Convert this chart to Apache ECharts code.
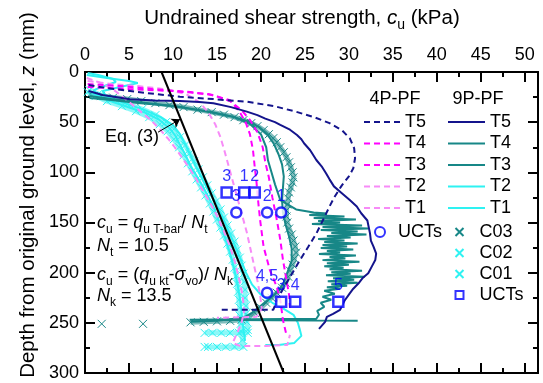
<!DOCTYPE html>
<html>
<head>
<meta charset="utf-8">
<script src="https://cdn.jsdelivr.net/npm/echarts@6/dist/echarts.min.js"></script>
<style>
html,body{margin:0;padding:0;background:#fff;}
#chart{width:543px;height:383px;}
</style>
</head>
<body>
<div id="chart"></div>
<script>
// Axis ticks
const strengthTicks = [0, 5, 10, 15, 20, 25, 30, 35, 40, 45, 50];
const strengthMinorTicks = [2.5, 7.5, 12.5, 17.5, 22.5, 27.5, 32.5, 37.5, 42.5, 47.5];
const strengthMax = 51.5;
const depthMax = 300;

// 4P-PF T-bar profiles [cu (kPa), z (mm)]
const pf4_T5 = [[0.4,13],[2.5,16],[6,20],[10.8,24.6],[14.6,27],[18.4,29.6],[21.5,34],[24,39.6],[26.2,45.5],[27.8,51],[29.2,58],[30.1,66],[30.6,76],[30.7,86],[30.5,96],[30,104],[29.2,113],[28.4,124],[27.8,134],[27.2,145],[26.3,161],[25.4,174],[24.4,188],[23.6,200],[22.8,212],[22,224],[21.4,237],[15.3,237]];
const pf4_T4 = [[0.3,12],[4,14],[8.9,18],[12,20],[14.6,23],[16.5,29],[17.8,38],[18.75,47.8],[19.6,60],[20.2,75],[20.5,90],[20.9,105],[21.3,125],[21.8,147],[22.2,167],[22.5,187],[22.9,207],[23.2,222],[23.3,235]];
const pf4_T3 = [[0.3,15],[5,17],[10,19],[14,22],[16.5,28],[17.6,40],[18.3,51],[18.75,62],[19.1,78],[19.3,95],[19.5,110],[19.7,130],[19.9,147],[20.3,174],[21,197],[21.8,214],[22.2,227],[22.5,247],[22.9,262]];
const pf4_T2 = [[0.3,9],[3,12],[6,14],[9,17],[11.5,22],[13,30],[14,40],[14.8,52],[15.4,65],[15.9,80],[16.4,96],[16.9,112],[17.4,128],[17.9,144],[18.4,160],[18.8,176],[19.2,192],[19.6,208],[19.9,222],[20.1,236],[19.5,244],[15,245]];
const pf4_T1 = [[0.2,6],[1.5,10],[3,16],[4.2,24],[5.3,32],[6.4,40],[7.5,48],[8.5,57],[9.4,66],[10.2,75],[11,85],[11.8,95],[12.6,106],[13.4,118],[14.2,130],[15,143],[15.7,157],[16.4,172],[17,188],[17.5,205],[17.9,222],[18.1,238],[17.8,250],[17.2,262],[16.8,270],[17.6,273],[20.6,273],[23,272],[23.3,262]];

// 9P-PF T-bar profiles
const pf9_T5 = [[0.4,19],[2,23],[5.1,27.2],[8,28.3],[10.8,28.9],[13,30],[14.6,31.2],[16.6,35],[18.4,39.5],[19.6,43],[20.5,46.5],[21.6,50],[22.2,52.8],[23.3,57.5],[24.1,62.8],[24.6,67],[24.9,71],[25.6,78],[26.3,87.7],[26.9,94],[27.4,101],[27.8,107],[28.3,114],[29.1,120],[30.1,127.6],[30.9,134],[31.4,140.8],[32.1,148],[32.4,160.8],[32.5,168],[32.8,174],[33.1,181],[33,187.4],[32.6,194],[32.2,200.6],[31.6,205],[31.1,210.6],[30.5,216],[30.1,220.6],[29.5,228],[29,237],[28.2,241],[27.5,244],[27.3,249],[26.6,256]];
const pf9_T4 = [[0.5,24],[3,27],[7,31],[11,35],[14.5,40],[17,45],[18.8,52],[20,62],[20.6,75],[20.8,88],[21.2,100],[21.6,112],[22.2,127.6],[24,137],[26,140],[27.5,141],[25.5,142.5],[29.5,144],[26,145.5],[30.8,147],[26.5,148.5],[29,150],[25.8,151.5],[31.5,153],[27,154.5],[32.2,156],[26.8,157.5],[31,159],[28,160.5],[32,162],[27.5,163.5],[30.2,165],[26.5,166.5],[29.5,168],[27.2,169.5],[31,171],[27,172.5],[29.8,174],[26.8,175.5],[30.5,177],[27.5,178.5],[29,180],[26.6,181.5],[30.8,183],[27.8,184.5],[29.6,186],[27,187.5],[31.2,189],[27.5,190.5],[30,192],[27.2,193.5],[29.4,195],[27.8,196.5],[31.5,198],[28,199.5],[30.2,201],[27.4,202.5],[31.8,204],[28.2,205.5],[30.6,207],[27.6,208.5],[31,210],[28,211.5],[29.8,213],[27.5,214.5],[29,216],[27.2,218],[28.4,221],[27,224],[28,227],[26.8,230],[27.2,234],[26.4,238],[26.6,242],[26.3,246],[11.9,247],[31,248]];
const pf9_T3 = [[0.5,26],[3,28],[6,31],[10,34],[13.5,39],[16.5,44],[18.5,49],[19.8,55],[20.8,63],[21.5,72],[22,82],[22.4,92],[22.6,104],[22.5,116],[22.4,128],[22.5,140],[22.8,152],[23.2,164],[23.5,176],[23.5,188],[23,200],[22.6,210],[22,218],[21,226],[20,233],[19,240],[18,245],[15,248],[12,249]];
const pf9_T2 = [[0.2,3],[2.5,6],[5,9],[6,11],[4,15],[2,19],[2.5,25],[4.5,31],[6.8,38],[8.6,45],[10,53],[10.8,62],[11.4,72],[12,83],[12.6,94],[13.3,106],[14,118],[14.8,130],[15.5,142],[16.2,156],[16.9,170],[17.6,185],[18.3,200],[19,212],[20,222],[21.3,230],[22.6,236],[23.7,242],[24.2,250],[24.4,256],[24.6,263],[23.8,270],[22,272],[20.5,272]];
const pf9_T1 = [[0.3,1],[1.5,3],[3.2,7],[3.5,10],[2.2,14],[1,18],[1.5,24],[3.2,30],[5.2,36],[7,41],[8.5,48],[9.6,56],[10.3,64],[10.9,74],[11.5,84],[12,94],[12.7,104],[13.4,114],[14,124],[14.6,134],[15.2,148],[15.8,162],[16.4,178],[16.9,194],[17.3,210],[17.6,225],[17.8,240],[18,255],[18.2,268]];

// Cone penetration profiles
const cone_C03 = [[0.6,22],[1.8,24],[3.2,25.5],[4.8,27],[6.4,29],[8,31],[9.6,33],[11.2,35],[12.8,37.5],[14.4,40],[15.8,42.5],[17,45],[18,48],[18.9,51],[19.6,54],[20.3,58],[20.9,62],[21.4,66],[21.8,70],[22.2,75],[22.6,80],[22.9,85],[23.2,90],[23.4,95],[23.6,100],[23.7,105],[23.6,110],[23.4,115],[23.2,120],[23.1,126],[23,132],[22.9,138],[22.9,144],[23,150],[23.2,156],[23.5,162],[23.7,168],[23.9,174],[24,180],[23.8,186],[23.6,192],[23.3,198],[23.1,204],[22.8,210],[22.4,215],[21.8,220],[21.2,225],[20.6,230],[20,235],[19.3,240],[18.6,244],[17.8,247],[16.5,248],[15,248.5],[13.5,249],[12,249.5],['-','-'],[6.6,251],['-','-'],[1.9,251]];
const cone_C02 = [[0.5,18],[1.5,22],[3,27],[4.8,32],[6.5,37],[8,43],[9.2,50],[10.1,57],[10.8,65],[11.4,73],[11.9,81],[12.4,89],[12.9,97],[13.4,105],[13.9,113],[14.4,121],[14.9,129],[15.4,137],[15.8,145],[16.2,153],[16.6,161],[17,169],[17.3,177],[17.6,185],[17.8,193],[18,201],[18.1,209],[18.2,217],[18.2,225],[18.3,233],[18.3,241],[18.4,249],[18.5,257],[18.5,260],[17.5,260],[16.5,260],[15.5,260],[14.5,260],[13.6,260]];
const cone_C01 = [[0.3,20],[1.2,24],[2.5,29],[4.2,34],[5.8,39],[7.3,45],[8.5,52],[9.4,59],[10.1,67],[10.7,75],[11.2,83],[11.7,91],[12.2,99],[12.7,107],[13.2,115],[13.7,123],[14.2,131],[14.6,139],[15,147],[15.4,155],[15.8,163],[16.2,171],[16.5,179],[16.8,187],[17,195],[17.2,203],[17.3,211],[17.4,219],[17.5,227],[17.6,235],[17.6,243],[17.7,251],[17.8,259],[17.9,267],[18,274],[17,274],[16,274],[15,274],[14,274],[13.6,274]];

// Unconfined compression tests [cu, z, test no.]
const uct_4P = [[22.3,140,'1'],[20.7,140,'2'],[17.2,140,'3'],[20.7,220,'4,5']];
const uct_9P = [[16.1,120,'3'],[18.1,120,'1'],[19.3,120,'2'],[22.3,229,'3'],[23.9,229,'4'],[28.8,229,'5']];

// Eq. (3) design line
const eq3Line = [[8.7,0],[22.6,300]];
const eq3Arrow = [[8.3,60],[10.8,47.2]];

const FF = '"Liberation Sans", Arial, sans-serif';
const NAVY = '#14148c', MAGENTA = '#ff00ff', PINK = '#f78bf7', TEAL = '#178787', CYAN = '#2ef2f2', BLUE = '#0000ff';
const XMARK = 'path://M0,0L10,10M10,0L0,10';
const SQUARE = 'path://M0,0H10V10H0Z';
const DASH = [6, 4];

function profile(name, data, color, dashed, z) {
  return {
    type: 'line', name: name, data: data, symbol: 'none', showSymbol: false,
    xAxisIndex: 0, yAxisIndex: 0, z: z, animation: false, silent: true,
    lineStyle: { color: color, width: 2, type: dashed ? DASH : 'solid' },
    itemStyle: { color: color }
  };
}
function cone(name, data, color, z) {
  return {
    type: 'line', name: name, data: data, symbol: XMARK, symbolSize: 8,
    showSymbol: true, showAllSymbol: true, connectNulls: false,
    xAxisIndex: 0, yAxisIndex: 0, z: z, animation: false, silent: true,
    lineStyle: { color: color, width: 5, opacity: 0.55 },
    itemStyle: { color: 'none', borderColor: color, borderWidth: 1 }
  };
}
function uct(name, data, symbol, z) {
  return {
    type: 'scatter', name: name, data: data, symbol: symbol, symbolSize: 10,
    xAxisIndex: 0, yAxisIndex: 0, z: z, animation: false, silent: true,
    itemStyle: { color: '#fff', borderColor: BLUE, borderWidth: 2.5 },
    label: { show: true, position: 'top', distance: 2, color: BLUE, fontSize: 16, fontFamily: FF,
             formatter: p => p.value[2] }
  };
}

const tickAxis = (pos, values, len, labels) => ({
  type: 'value', position: pos, min: 0, max: strengthMax, gridIndex: 0,
  axisLine: { show: true, onZero: false, lineStyle: { color: '#000', width: 2 } },
  axisTick: { show: true, inside: true, length: len, customValues: values, lineStyle: { color: '#000', width: 2 } },
  axisLabel: labels ? { show: true, customValues: values, fontSize: 18, fontFamily: FF, color: '#000', margin: 8 } : { show: false },
  splitLine: { show: false }
});
const depthAxis = (pos, labels) => ({
  type: 'value', position: pos, inverse: true, min: 0, max: depthMax, interval: 50, gridIndex: 0,
  axisLine: { show: true, onZero: false, lineStyle: { color: '#000', width: 2 } },
  axisTick: { show: true, inside: true, length: 10, lineStyle: { color: '#000', width: 2 } },
  minorTick: { show: true, splitNumber: 2, length: 5, lineStyle: { color: '#000', width: 2 } },
  axisLabel: labels ? { show: true, fontSize: 18, fontFamily: FF, color: '#000', margin: 6 } : { show: false },
  splitLine: { show: false }, minorSplitLine: { show: false }
});

function richSet(size) {
  const sub = Math.round(size * 0.66);
  return {
    i: { fontFamily: FF, fontSize: size, fontStyle: 'italic', lineHeight: size + 2, verticalAlign: 'top', fill: '#000', color: '#000' },
    n: { fontFamily: FF, fontSize: size, lineHeight: size + 2, verticalAlign: 'top', fill: '#000', color: '#000' },
    s: { fontFamily: FF, fontSize: sub, lineHeight: sub, padding: [size + 5 - sub, 0, 0, 0], fill: '#000', color: '#000' }
  };
}
function label(x, y, text, size, align, rot) {
  return { type: 'text', x: x, y: y, rotation: rot || 0, silent: true, z: 50,
    style: { text: text, rich: richSet(size), font: size + 'px ' + FF, fill: '#000',
             align: align || 'left', textAlign: align || 'left', verticalAlign: 'top', textVerticalAlign: 'top' } };
}

const legendText = { fontSize: 18, fontFamily: FF, color: '#000', lineHeight: 18 };
const stripPrefix = n => n.replace(/^\dP-PF /, '').replace(/ \(.*\)$/, '');

const option = {
  backgroundColor: '#fff',
  animation: false,
  grid: { left: 85, top: 72, width: 453, height: 301, containLabel: false },
  xAxis: [
    tickAxis('top', strengthTicks, 10, true),
    tickAxis('top', strengthMinorTicks, 5, false),
    tickAxis('bottom', strengthTicks, 10, false),
    tickAxis('bottom', strengthMinorTicks, 5, false)
  ],
  yAxis: [depthAxis('left', true), depthAxis('right', false)],
  legend: [
    { data: ['4P-PF T5','4P-PF T4','4P-PF T3','4P-PF T2','4P-PF T1'], orient: 'vertical', left: 363, top: 113,
      itemWidth: 36, itemHeight: 14, itemGap: 3.5, padding: 0, selectedMode: false, textStyle: legendText,
      itemStyle: { opacity: 0 }, formatter: stripPrefix },
    { data: ['9P-PF T5','9P-PF T4','9P-PF T3','9P-PF T2','9P-PF T1'], orient: 'vertical', left: 447, top: 113,
      itemWidth: 37, itemHeight: 14, itemGap: 3.5, padding: 0, selectedMode: false, textStyle: legendText,
      itemStyle: { opacity: 0 }, formatter: stripPrefix },
    { data: ['UCTs (4P)'], orient: 'vertical', left: 374, top: 223, itemWidth: 26, itemHeight: 10,
      padding: 0, selectedMode: false, textStyle: legendText, formatter: stripPrefix },
    { data: [{ name: 'C03', icon: XMARK }, { name: 'C02', icon: XMARK }, { name: 'C01', icon: XMARK }, { name: 'UCTs (9P)', icon: SQUARE }],
      orient: 'vertical', left: 453, top: 223, itemWidth: 30, itemHeight: 8, itemGap: 3, symbolKeepAspect: true,
      padding: 0, selectedMode: false, textStyle: legendText, formatter: stripPrefix }
  ],
  graphic: [
    label(302, 8, '{n|Undrained shear strength, }{i|c}{s|u}{n| (kPa)}', 20.5, 'center'),
    label(18, 195, '{n|Depth from original ground level, }{i|z}{n| (mm)}', 20.5, 'center', Math.PI / 2),
    { type: 'text', x: 395, y: 90, silent: true, style: { text: '4P-PF', font: '18px ' + FF, fill: '#000', align: 'center', textAlign: 'center' } },
    { type: 'text', x: 478, y: 90, silent: true, style: { text: '9P-PF', font: '18px ' + FF, fill: '#000', align: 'center', textAlign: 'center' } },
    { type: 'text', x: 105, y: 128, silent: true, style: { text: 'Eq. (3)', font: '18px ' + FF, fill: '#000' } },
    label(97, 214, '{i|c}{s|u}{n| = }{i|q}{s|u T-bar}{n|/ }{i|N}{s|t}', 18),
    label(97, 237, '{i|N}{s|t}{n| = 10.5}', 18),
    label(97, 266, '{i|c}{s|u}{n| = (}{i|q}{s|u kt}{n|-}{i|σ}{s|vo}{n|)/ }{i|N}{s|k}', 18),
    label(97, 287, '{i|N}{s|k}{n| = 13.5}', 18)
  ],
  series: [
    cone('C03', cone_C03, TEAL, 2),
    cone('C02', cone_C02, CYAN, 2),
    cone('C01', cone_C01, CYAN, 2),
    profile('9P-PF T2', pf9_T2, CYAN, false, 3),
    profile('9P-PF T1', pf9_T1, CYAN, false, 3),
    profile('9P-PF T4', pf9_T4, TEAL, false, 3),
    profile('9P-PF T3', pf9_T3, TEAL, false, 3),
    profile('4P-PF T2', pf4_T2, PINK, true, 4),
    profile('4P-PF T1', pf4_T1, PINK, true, 4),
    profile('4P-PF T4', pf4_T4, MAGENTA, true, 4),
    profile('4P-PF T3', pf4_T3, MAGENTA, true, 4),
    profile('4P-PF T5', pf4_T5, NAVY, true, 5),
    profile('9P-PF T5', pf9_T5, NAVY, false, 5),
    { type: 'line', name: 'Eq. (3)', data: eq3Line, symbol: 'none', silent: true, z: 6,
      lineStyle: { color: '#000', width: 2 } },
    { type: 'lines', coordinateSystem: 'cartesian2d', xAxisIndex: 0, yAxisIndex: 0, silent: true, z: 6,
      data: [{ coords: eq3Arrow }], symbol: ['none', 'arrow'], symbolSize: 8,
      lineStyle: { color: '#000', width: 1, opacity: 1 } },
    uct('UCTs (4P)', uct_4P, 'circle', 8),
    uct('UCTs (9P)', uct_9P, 'rect', 8)
  ]
};

const chart = echarts.init(document.getElementById('chart'), null, { renderer: 'canvas' });
chart.setOption(option);
</script>
</body>
</html>
